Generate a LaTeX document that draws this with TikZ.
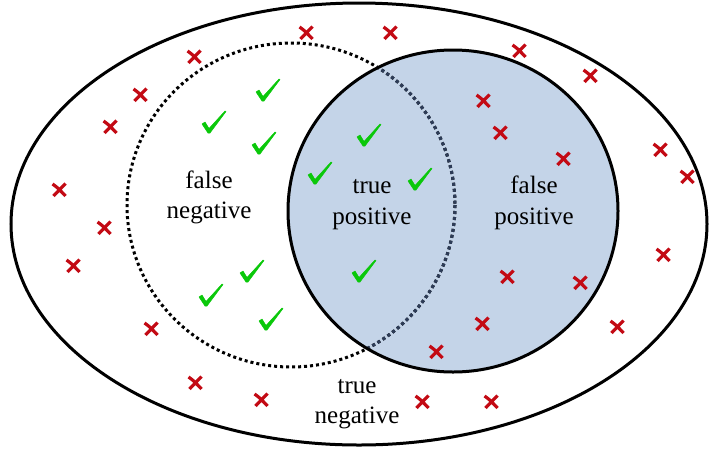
\documentclass[tikz,border=0pt]{standalone}
\usepackage{fontspec}
\setmainfont{Liberation Serif}
\definecolor{chkgreen}{RGB}{10,200,10}
\definecolor{crsred}{RGB}{195,10,20}
\definecolor{tpblue}{RGB}{196,212,232}
\definecolor{dotnavy}{RGB}{45,60,88}
\begin{document}
\begin{tikzpicture}[x=1pt,y=-1pt,
  lbl/.style={font=\fontsize{25}{30}\selectfont, inner sep=0pt, anchor=base},
  dotring/.style={line width=3pt, dash pattern=on 3pt off 3pt},
  chk/.pic={\filldraw[chkgreen, line width=0.5pt, line join=round] (-12,2) -- (-9,0) -- (-5,6.5) -- (11,-11) -- (12,-10.5) -- (-4,11) -- (-6,11) -- cycle;},
  crs/.pic={\draw[crsred, line width=3.2pt] (-6.5,-6) .. controls (-1,-2) .. (6.5,6) (6.5,-6.5) .. controls (0,0) .. (-5.5,6);}
]
\useasboundingbox (0,0) rectangle (709,448);
% outer ellipse
\draw[line width=3pt] (359,224) ellipse [x radius=348, y radius=221];
% blue ellipse fill (actual positive)
\fill[tpblue] (453,211) ellipse [x radius=165, y radius=161];
% dotted circle (predicted)
\draw[dotring] (291,205) ellipse [x radius=164, y radius=162];
\begin{scope}
  \clip (453,211) ellipse [x radius=165, y radius=161];
  \draw[dotring, dotnavy] (291,205) ellipse [x radius=164, y radius=162];
\end{scope}
\draw[line width=3pt] (453,211) ellipse [x radius=165, y radius=161];
% labels
\node[lbl] (fn1) at (209,188) {false};
\node[lbl] (fn2) at (209,218) {negative};
\node[lbl] (tp1) at (372,193) {true};
\node[lbl] (tp2) at (372,224) {positive};
\node[lbl] (fp1) at (534,193) {false};
\node[lbl] (fp2) at (534,224) {positive};
\node[lbl] (tn1) at (357,393) {true};
\node[lbl] (tn2) at (357,423) {negative};
% checks
\foreach \p in {(268,90),(214,122),(264,143),(369,135),(320,173),(420,179),(252,271),(211,295),(271,319),(364,271)}
  \pic at \p {chk};
% crosses
\foreach \p in {(194,57),(306,33),(390,33),(519,51),(590,76),(140,95),(110,127),(483,101),(500,133),(563,159),(660,150),(687,177),(59,190),(104,228),(73,266),(663,255),(507,277),(580,283),(151,329),(482,324),(617,327),(436,352),(195,383),(261,400),(422,402),(491,402)}
  \pic at \p {crs};
\end{tikzpicture}
\end{document}
